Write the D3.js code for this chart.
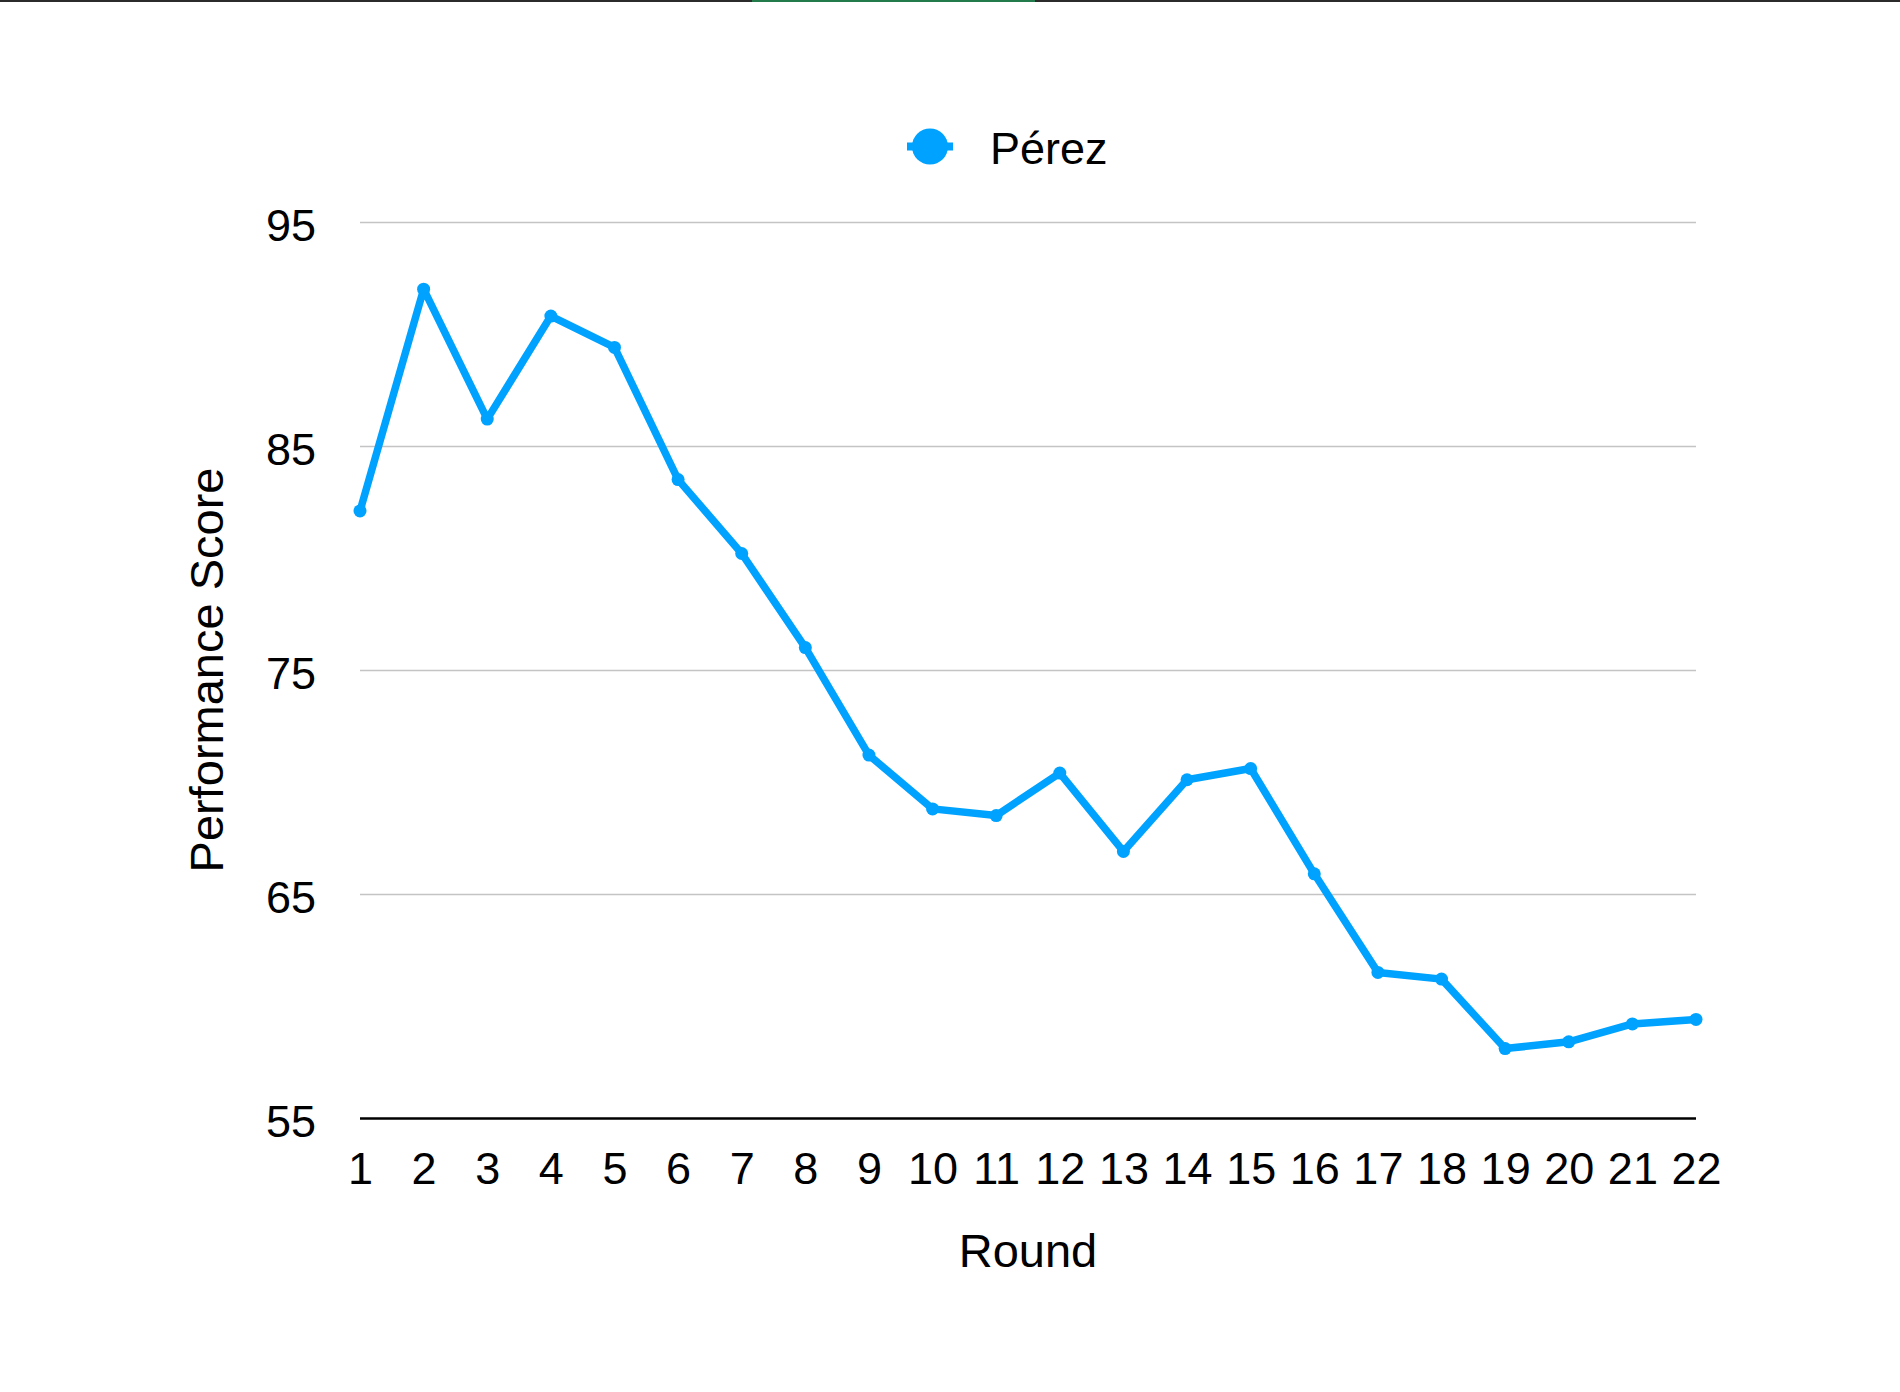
<!DOCTYPE html>
<html>
<head>
<meta charset="utf-8">
<script src="https://cdn.jsdelivr.net/npm/d3@7"></script>
<style>
  body { margin: 0; background: #fff; }
  svg { display: block; font-family: "Liberation Sans", Arial, Helvetica, sans-serif; }
</style>
</head>
<body>
<svg id="lineChart" width="1900" height="1392"></svg>
<script>
// values
const rounds = [1, 2, 3, 4, 5, 6, 7, 8, 9, 10, 11, 12, 13, 14, 15, 16, 17, 18, 19, 20, 21, 22];
const perezScores = [82.1, 92.0, 86.2, 90.8, 89.4, 83.5, 80.2, 76.0, 71.2, 68.8, 68.5, 70.4,
                     66.9, 70.1, 70.6, 65.9, 61.5, 61.2, 58.1, 58.4, 59.2, 59.4];
const yTicks = [55, 65, 75, 85, 95];
const seriesName = "Pérez";

const blue = "#00a2ff";

const svg = d3.select("#lineChart");
const width = +svg.attr("width");

const margin = { top: 222, right: 204, bottom: 274, left: 360 };
const chartWidth = width - margin.left - margin.right;
const chartHeight = +svg.attr("height") - margin.top - margin.bottom;

// window chrome strip at the very top of the screenshot
svg.append("rect").attr("x", 0).attr("y", 0).attr("width", width).attr("height", 2).attr("fill", "#2b2b2b");
svg.append("rect").attr("x", 752).attr("y", 0).attr("width", 283).attr("height", 2).attr("fill", "#237a4b");

const chart = svg.append("g")
  .attr("transform", `translate(${margin.left}, ${margin.top})`);

const xScale = d3.scalePoint()
  .domain(rounds)
  .range([0, chartWidth])
  .padding(0);

const yScale = d3.scaleLinear()
  .domain([55, 95])
  .range([chartHeight, 0]);

// y axis + gridlines
const yAxis = chart.append("g")
  .call(d3.axisLeft(yScale).tickValues(yTicks).tickSize(-chartWidth).tickPadding(44));
yAxis.select(".domain").remove();
yAxis.selectAll(".tick line")
  .attr("stroke", (d) => d === 55 ? "#000" : "#c4c4c4")
  .attr("stroke-width", (d) => d === 55 ? 2.6 : 1.5);
yAxis.selectAll(".tick text")
  .attr("font-size", "45px")
  .attr("fill", "#000")
  .attr("dy", "0.42em");

// x axis
const xAxis = chart.append("g")
  .attr("transform", `translate(0, ${chartHeight})`)
  .call(d3.axisBottom(xScale).tickSize(0).tickPadding(34));
xAxis.select(".domain").remove();
xAxis.selectAll(".tick text")
  .attr("font-size", "45px")
  .attr("fill", "#000");

// series
const line = d3.line()
  .x((d, i) => xScale(rounds[i]))
  .y((d) => yScale(d));

chart.append("path")
  .datum(perezScores)
  .attr("fill", "none")
  .attr("stroke", blue)
  .attr("stroke-width", 7.5)
  .attr("stroke-linejoin", "round")
  .attr("d", line);

chart.selectAll("circle.pt")
  .data(perezScores)
  .enter()
  .append("circle")
  .attr("class", "pt")
  .attr("cx", (d, i) => xScale(rounds[i]))
  .attr("cy", (d) => yScale(d))
  .attr("r", 6.5)
  .attr("fill", blue);

// axis titles
svg.append("text")
  .attr("x", margin.left + chartWidth / 2)
  .attr("y", 1267)
  .attr("text-anchor", "middle")
  .attr("font-size", "47px")
  .attr("fill", "#000")
  .text("Round");

svg.append("text")
  .attr("transform", `translate(223, ${margin.top + chartHeight / 2}) rotate(-90)`)
  .attr("text-anchor", "middle")
  .attr("font-size", "47px")
  .attr("fill", "#000")
  .text("Performance Score");

// legend
const legend = svg.append("g").attr("transform", "translate(930, 146.5)");
legend.append("line")
  .attr("x1", -23).attr("x2", 23)
  .attr("stroke", blue)
  .attr("stroke-width", 8);
legend.append("circle")
  .attr("r", 18)
  .attr("fill", blue);
legend.append("text")
  .attr("x", 60)
  .attr("y", 17.5)
  .attr("font-size", "45px")
  .attr("fill", "#000")
  .text(seriesName);
</script>
</body>
</html>
